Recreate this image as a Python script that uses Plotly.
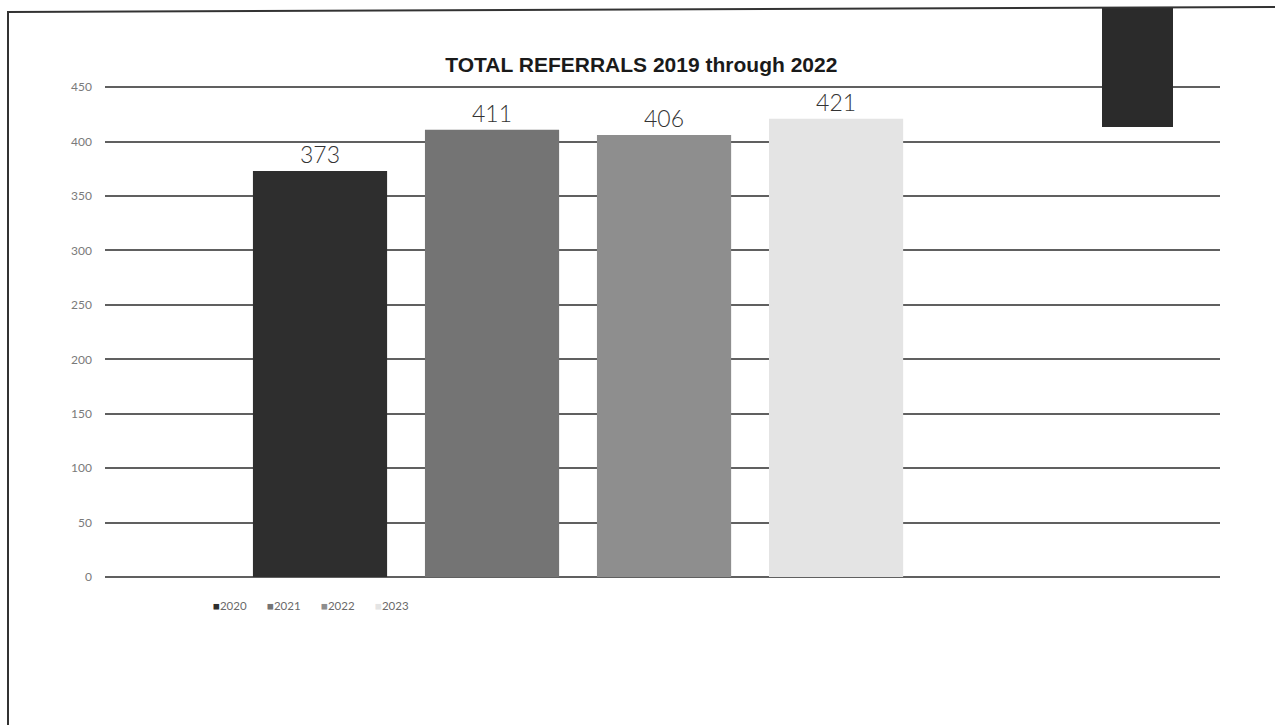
import plotly.graph_objects as go

# Referral totals by year
years = ["2020", "2021", "2022", "2023"]
referrals = [373, 411, 406, 421]
bar_colors = ["#2e2e2e", "#747474", "#8e8e8e", "#e4e4e4"]
y_ticks = [0, 50, 100, 150, 200, 250, 300, 350, 400, 450]

W, H = 1275, 725
M_L, M_R, M_T, M_B = 105, 55, 85, 148
PLOT_W = W - M_L - M_R
PLOT_H = H - M_T - M_B


def px_x(x):
    return (x - M_L) / PLOT_W


def px_y(y):
    return (H - M_B - y) / PLOT_H


fig = go.Figure()
for yr, val, col in zip(years, referrals, bar_colors):
    fig.add_trace(go.Bar(
        x=["Total"], y=[val], name=yr,
        marker=dict(color=col, line=dict(width=0)),
        text=[str(val)], textposition="outside", cliponaxis=False,
        textfont=dict(family="Lato", size=23, color="#333333", weight=300),
        showlegend=False,
    ))

# Compact legend row beneath the axis
legend_x = [211, 265, 319, 373]
for i, (yr, col) in enumerate(zip(years, bar_colors)):
    fig.add_annotation(
        x=px_x(legend_x[i]), y=px_y(605), xref="paper", yref="paper",
        xanchor="left", yanchor="middle", showarrow=False,
        text=f"<span style='color:{col}'>■</span>{yr}",
        font=dict(family="Lato", size=11.5, color="#6a6a6a"),
    )

shapes = [
    # dark block over the top right corner
    dict(type="rect", xref="paper", yref="paper",
         x0=px_x(1102), x1=px_x(1173), y0=px_y(127), y1=px_y(8),
         fillcolor="#2b2b2b", line=dict(width=0), layer="above"),
    # page frame
    dict(type="line", xref="paper", yref="paper",
         x0=px_x(8), x1=px_x(8), y0=px_y(11), y1=px_y(725),
         line=dict(color="#333333", width=2)),
    dict(type="line", xref="paper", yref="paper",
         x0=px_x(8), x1=px_x(1275), y0=px_y(12), y1=px_y(7),
         line=dict(color="#333333", width=2)),
]

fig.update_layout(
    width=W, height=H,
    margin=dict(l=M_L, r=M_R, t=M_T, b=M_B),
    paper_bgcolor="white", plot_bgcolor="white",
    barmode="group", bargap=0.0, bargroupgap=0.22,
    title=dict(text="<b>TOTAL REFERRALS 2019 through 2022</b>",
               x=0.503, xanchor="center", y=1 - 65 / H, yanchor="middle",
               font=dict(family="Liberation Sans", size=21, color="#1a1a1a")),
    xaxis=dict(type="category", range=[-0.6875, 0.933], showticklabels=False,
               showgrid=False, zeroline=False, showline=False),
    yaxis=dict(range=[0, 452], tickvals=y_ticks, showgrid=True,
               gridcolor="#606060", gridwidth=1.5, zeroline=True,
               zerolinecolor="#606060", zerolinewidth=1.5, showline=False,
               ticklabelstandoff=12,
               tickfont=dict(family="Lato", size=12, color="#7a7a7a")),
    shapes=shapes,
)

fig.write_html("out.html")
